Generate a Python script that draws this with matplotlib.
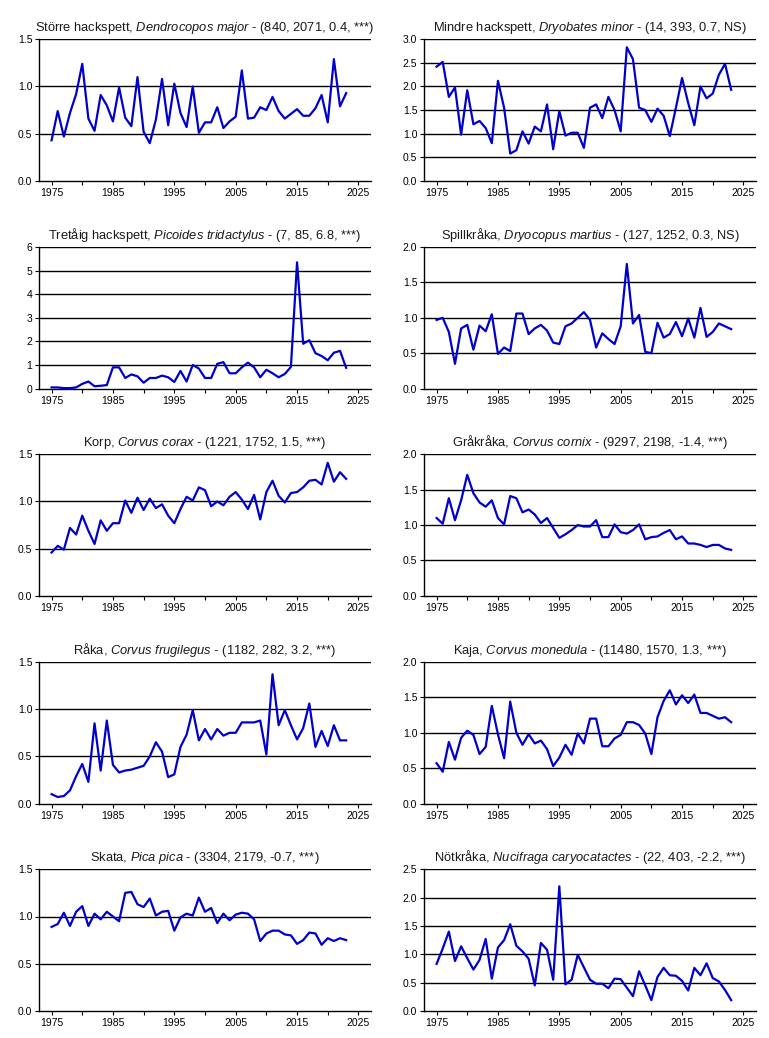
import matplotlib
matplotlib.use("Agg")
import matplotlib.pyplot as plt
import numpy as np

plt.rcParams['font.family'] = ['Liberation Sans', 'DejaVu Sans']
plt.rcParams['mathtext.fontset'] = 'custom'
plt.rcParams['mathtext.rm'] = 'Liberation Sans'
plt.rcParams['mathtext.it'] = 'Liberation Sans:italic'

years = list(range(1975, 2024))

storre_hackspett = [0.43, 0.74, 0.47, 0.72, 0.92, 1.24, 0.66, 0.53, 0.91, 0.80,
                    0.63, 0.99, 0.67, 0.58, 1.10, 0.52, 0.40, 0.65, 1.08, 0.59,
                    1.03, 0.72, 0.57, 1.00, 0.51, 0.62, 0.62, 0.78, 0.56, 0.63,
                    0.68, 1.17, 0.66, 0.67, 0.78, 0.75, 0.89, 0.74, 0.66, 0.71,
                    0.76, 0.69, 0.69, 0.77, 0.91, 0.62, 1.29, 0.79, 0.93]
mindre_hackspett = [2.42, 2.52, 1.78, 1.98, 0.98, 1.92, 1.20, 1.27, 1.12, 0.80,
                    2.12, 1.55, 0.58, 0.65, 1.05, 0.79, 1.15, 1.05, 1.62, 0.67,
                    1.48, 0.96, 1.02, 1.02, 0.70, 1.55, 1.62, 1.33, 1.78, 1.50,
                    1.05, 2.83, 2.58, 1.55, 1.50, 1.25, 1.53, 1.38, 0.95, 1.55,
                    2.18, 1.65, 1.18, 2.00, 1.75, 1.85, 2.25, 2.48, 1.93]
tretaig_hackspett = [0.05, 0.05, 0.02, 0.02, 0.05, 0.20, 0.30, 0.10, 0.12, 0.15,
                     0.90, 0.90, 0.45, 0.60, 0.52, 0.25, 0.45, 0.45, 0.55, 0.48,
                     0.28, 0.75, 0.30, 1.00, 0.85, 0.45, 0.45, 1.05, 1.12, 0.65,
                     0.65, 0.90, 1.10, 0.90, 0.48, 0.80, 0.65, 0.48, 0.62, 0.92,
                     5.35, 1.90, 2.05, 1.50, 1.38, 1.20, 1.52, 1.60, 0.88]
spillkraka = [0.97, 1.00, 0.80, 0.35, 0.85, 0.90, 0.55, 0.89, 0.81, 1.05,
              0.49, 0.58, 0.53, 1.06, 1.06, 0.77, 0.85, 0.90, 0.82, 0.65,
              0.63, 0.88, 0.92, 1.00, 1.08, 0.97, 0.58, 0.78, 0.70, 0.63,
              0.88, 1.76, 0.92, 1.04, 0.52, 0.50, 0.93, 0.72, 0.77, 0.94,
              0.74, 0.99, 0.72, 1.14, 0.73, 0.80, 0.92, 0.88, 0.84]
korp = [0.46, 0.53, 0.49, 0.72, 0.65, 0.85, 0.69, 0.55, 0.80, 0.69,
        0.77, 0.77, 1.01, 0.88, 1.04, 0.91, 1.03, 0.93, 0.97, 0.85,
        0.77, 0.92, 1.05, 1.01, 1.15, 1.12, 0.95, 1.00, 0.96, 1.05,
        1.10, 1.02, 0.92, 1.07, 0.81, 1.10, 1.22, 1.06, 0.99, 1.09,
        1.10, 1.15, 1.22, 1.23, 1.18, 1.41, 1.21, 1.31, 1.24]
grakraka = [1.10, 1.02, 1.38, 1.07, 1.35, 1.71, 1.45, 1.32, 1.26, 1.35,
            1.10, 1.01, 1.41, 1.38, 1.18, 1.22, 1.15, 1.03, 1.10, 0.96,
            0.82, 0.87, 0.93, 1.00, 0.98, 0.98, 1.07, 0.83, 0.83, 1.01,
            0.90, 0.88, 0.93, 1.01, 0.80, 0.83, 0.84, 0.89, 0.93, 0.80,
            0.84, 0.74, 0.74, 0.72, 0.69, 0.72, 0.72, 0.67, 0.65]
raka = [0.10, 0.07, 0.08, 0.14, 0.29, 0.42, 0.23, 0.85, 0.35, 0.88,
        0.41, 0.33, 0.35, 0.36, 0.38, 0.40, 0.50, 0.65, 0.55, 0.28,
        0.31, 0.60, 0.73, 0.99, 0.67, 0.79, 0.68, 0.79, 0.72, 0.75,
        0.75, 0.86, 0.86, 0.86, 0.88, 0.52, 1.37, 0.83, 0.99, 0.83,
        0.68, 0.80, 1.06, 0.60, 0.77, 0.61, 0.83, 0.67, 0.67]
kaja = [0.57, 0.45, 0.87, 0.62, 0.93, 1.03, 0.97, 0.70, 0.80, 1.38,
        0.98, 0.64, 1.44, 1.00, 0.83, 0.98, 0.85, 0.89, 0.77, 0.53,
        0.65, 0.83, 0.69, 0.99, 0.85, 1.20, 1.20, 0.81, 0.81, 0.92,
        0.97, 1.15, 1.15, 1.11, 0.99, 0.70, 1.22, 1.45, 1.60, 1.40,
        1.53, 1.42, 1.54, 1.28, 1.28, 1.24, 1.20, 1.22, 1.15]
skata = [0.89, 0.92, 1.04, 0.90, 1.05, 1.11, 0.90, 1.03, 0.97, 1.05,
         1.00, 0.95, 1.25, 1.26, 1.13, 1.10, 1.19, 1.01, 1.05, 1.06,
         0.85, 0.99, 1.03, 1.01, 1.20, 1.05, 1.09, 0.93, 1.03, 0.96,
         1.02, 1.04, 1.03, 0.97, 0.74, 0.82, 0.85, 0.85, 0.81, 0.80,
         0.71, 0.75, 0.83, 0.82, 0.70, 0.77, 0.74, 0.77, 0.75]
notkraka = [0.83, 1.10, 1.40, 0.88, 1.14, 0.93, 0.73, 0.90, 1.27, 0.57,
            1.12, 1.25, 1.53, 1.15, 1.05, 0.92, 0.45, 1.20, 1.08, 0.55,
            2.20, 0.47, 0.55, 0.99, 0.77, 0.55, 0.48, 0.48, 0.40, 0.57,
            0.56, 0.41, 0.26, 0.70, 0.45, 0.19, 0.60, 0.76, 0.63, 0.62,
            0.53, 0.36, 0.76, 0.63, 0.84, 0.58, 0.52, 0.37, 0.19]

names = ["Större hackspett", "Mindre hackspett", "Tretåig hackspett", "Spillkråka",
         "Korp", "Gråkråka", "Råka", "Kaja", "Skata", "Nötkråka"]
latin = ["Dendrocopos major", "Dryobates minor", "Picoides tridactylus", "Dryocopus martius",
         "Corvus corax", "Corvus cornix", "Corvus frugilegus", "Corvus monedula",
         "Pica pica", "Nucifraga caryocatactes"]
stats = ["(840, 2071, 0.4, ***)", "(14, 393, 0.7, NS)", "(7, 85, 6.8, ***)",
         "(127, 1252, 0.3, NS)", "(1221, 1752, 1.5, ***)", "(9297, 2198, -1.4, ***)",
         "(1182, 282, 3.2, ***)", "(11480, 1570, 1.3, ***)", "(3304, 2179, -0.7, ***)",
         "(22, 403, -2.2, ***)"]
series = [storre_hackspett, mindre_hackspett, tretaig_hackspett, spillkraka, korp,
          grakraka, raka, kaja, skata, notkraka]
y_ticks = [[0.0, 0.5, 1.0, 1.5], [0.0, 0.5, 1.0, 1.5, 2.0, 2.5, 3.0],
           [0, 1, 2, 3, 4, 5, 6], [0.0, 0.5, 1.0, 1.5, 2.0],
           [0.0, 0.5, 1.0, 1.5], [0.0, 0.5, 1.0, 1.5, 2.0],
           [0.0, 0.5, 1.0, 1.5], [0.0, 0.5, 1.0, 1.5, 2.0],
           [0.0, 0.5, 1.0, 1.5], [0.0, 0.5, 1.0, 1.5, 2.0, 2.5]]
x_ticks = list(range(1975, 2030, 5))
x_labels = [str(v) if (v - 1975) % 10 == 0 else "" for v in x_ticks]

W, H = 769, 1038
fig = plt.figure(figsize=(W / 100, H / 100), dpi=100)

lefts = [39.3, 424.3]
width = 331.4
tops = [39.3, 247.0, 454.3, 662.0, 869.3]
height = 141.6

for i in range(10):
    r, c = divmod(i, 2)
    ax = fig.add_axes([lefts[c] / W, 1 - (tops[r] + height) / H, width / W, height / H])
    yt = y_ticks[i]
    ax.set_ylim(yt[0], yt[-1])
    ax.set_xlim(1973, 2027)
    for v in yt[1:]:
        ax.axhline(v, color='black', lw=1.0, zorder=1)
    ax.plot(years, series[i], color='#0000CC', lw=1.6, zorder=3)
    ax.set_yticks(yt)
    if isinstance(yt[1], int):
        ax.set_yticklabels([str(v) for v in yt])
    else:
        ax.set_yticklabels([f"{v:.1f}" for v in yt])
    ax.set_xticks(x_ticks)
    ax.set_xticklabels(x_labels)
    ax.tick_params(axis='both', labelsize=7.5, length=3, width=0.8, color='black',
                   pad=2)
    for s in ['top', 'right']:
        ax.spines[s].set_visible(False)
    for s in ['left', 'bottom']:
        ax.spines[s].set_linewidth(1.0)
    lat = latin[i].replace(" ", r"\ ")
    title = names[i] + ", $\\mathit{" + lat + "}$ - " + stats[i]
    ax.set_title(title, fontsize=9.3, color='#1a1a1a', pad=6)

fig.savefig("out.png", dpi=100)
